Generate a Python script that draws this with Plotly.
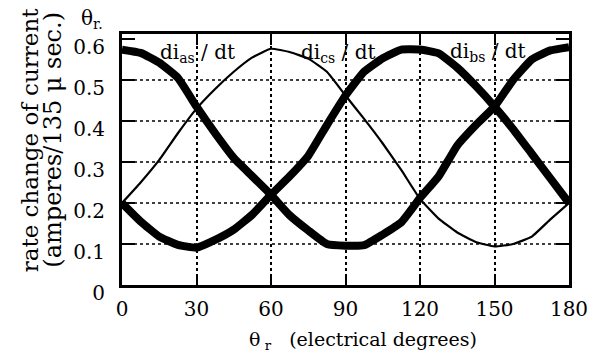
import plotly.graph_objects as go

# Rotor angle samples (electrical degrees)
theta = [0, 7.5, 15, 22.5, 30, 37.5, 45, 52.5, 60, 67.5, 75, 82.5, 90,
         97.5, 105, 112.5, 120, 127.5, 135, 142.5, 150, 157.5, 165, 172.5, 180]

# Rate of change of phase currents (amperes / 135 µs)
di_as = [0.574, 0.566, 0.542, 0.505, 0.435, 0.37, 0.31, 0.265, 0.22, 0.17, 0.133, 0.1, 0.096,
         0.097, 0.123, 0.153, 0.212, 0.265, 0.34, 0.39, 0.435, 0.5, 0.55, 0.572, 0.58]
di_cs = [0.2, 0.25, 0.305, 0.37, 0.43, 0.478, 0.52, 0.555, 0.576, 0.568, 0.552, 0.52, 0.462,
         0.405, 0.345, 0.28, 0.21, 0.162, 0.128, 0.105, 0.094, 0.1, 0.118, 0.16, 0.2]
di_bs = [0.2, 0.155, 0.118, 0.098, 0.091, 0.11, 0.135, 0.172, 0.22, 0.265, 0.315, 0.39, 0.462,
         0.52, 0.553, 0.574, 0.574, 0.565, 0.53, 0.485, 0.435, 0.38, 0.32, 0.26, 0.2]

x_ticks = [0, 30, 60, 90, 120, 150, 180]
y_ticks = [0, 0.1, 0.2, 0.3, 0.4, 0.5, 0.6]
y_grid = [0.1, 0.2, 0.3, 0.4, 0.5]

FONT = "DejaVu Serif"
Y_MAX = 0.612

fig = go.Figure()
fig.add_trace(go.Scatter(x=theta, y=di_as, mode="lines",
                         line=dict(color="black", width=8, shape="spline", smoothing=0.4),
                         showlegend=False))
fig.add_trace(go.Scatter(x=theta, y=di_cs, mode="lines",
                         line=dict(color="black", width=2.2, shape="spline", smoothing=0.4),
                         showlegend=False))
fig.add_trace(go.Scatter(x=theta, y=di_bs, mode="lines",
                         line=dict(color="black", width=8, shape="spline", smoothing=0.4),
                         showlegend=False))

fig.update_layout(
    width=600, height=358,
    margin=dict(l=122, r=19, t=34, b=73),
    paper_bgcolor="white", plot_bgcolor="white",
    font=dict(family=FONT, size=20, color="black"),
    xaxis=dict(
        range=[0, 180], tickvals=x_ticks, ticktext=[str(v) for v in x_ticks],
        showline=True, linewidth=3, linecolor="black", mirror="ticks",
        ticks="inside", ticklen=11, tickwidth=2, tickcolor="black",
        showgrid=True, gridcolor="black", gridwidth=1.5, griddash="dot",
        zeroline=False, ticklabelstandoff=4, ticklabeloverflow="allow",
        tickfont=dict(family=FONT, size=20),
    ),
    yaxis=dict(
        range=[0, Y_MAX], tickvals=y_ticks,
        ticktext=["0", "0.1", "0.2", "0.3", "0.4", "0.5", "0.6"],
        showline=True, linewidth=3, linecolor="black", mirror="ticks",
        ticks="inside", ticklen=13, tickwidth=2, tickcolor="black",
        showgrid=False, zeroline=False, ticklabelstandoff=10, ticklabelshift=8,
        ticklabeloverflow="allow",
        tickfont=dict(family=FONT, size=20),
    ),
)

# dotted horizontal grid at the interior y ticks only
for g in y_grid:
    fig.add_hline(y=g, line=dict(color="black", width=1.5, dash="dot"), layer="below")

annotations = [
    dict(text="di<sub>as</sub> / dt", x=30.5, y=0.566, xref="x", yref="y", size=20),
    dict(text="di<sub>cs</sub> / dt", x=87, y=0.566, xref="x", yref="y", size=20),
    dict(text="di<sub>bs</sub> / dt", x=147.5, y=0.568, xref="x", yref="y", size=20),
    dict(text="θ<sub>r.</sub>", x=-0.066, y=1.06, xref="paper", yref="paper", size=20),
    dict(text="θ<sub> r</sub>&nbsp;&nbsp;&nbsp;(electrical degrees)", x=0.54, y=-0.22,
         xref="paper", yref="paper", size=19),
    dict(text="rate change of current", x=-0.205, y=0.578, xref="paper", yref="paper",
         textangle=-90, size=23),
    dict(text="(amperes/135 μ sec.)", x=-0.155, y=0.578, xref="paper", yref="paper",
         textangle=-90, size=24),
]
for a in annotations:
    size = a.pop("size")
    fig.add_annotation(showarrow=False, xanchor="center", yanchor="middle",
                       font=dict(family=FONT, size=size), **a)

fig.write_html("out.html")
